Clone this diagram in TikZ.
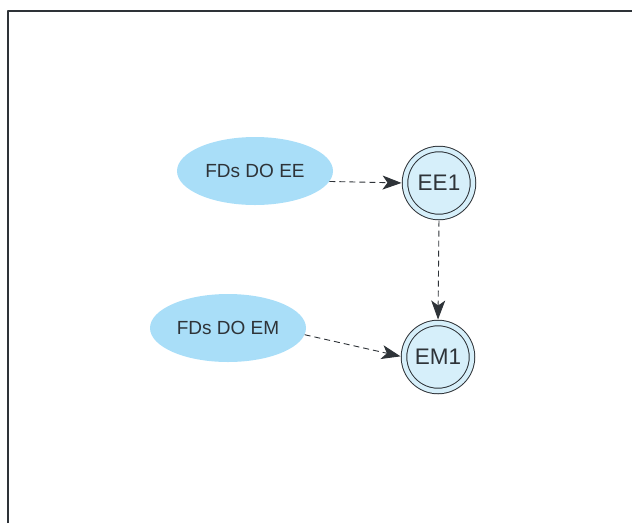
\documentclass[tikz,border=0pt]{standalone}
\usepackage{fontspec}
\setmainfont{Liberation Sans}
\usetikzlibrary{shapes.geometric,arrows.meta}
\definecolor{fdblue}{HTML}{A9DEF8}
\definecolor{stblue}{HTML}{D6EFFA}
\definecolor{inkgray}{HTML}{2E3338}
\begin{document}
\begin{tikzpicture}[x=1pt,y=-1pt,line join=round,
		fdnode/.style={ellipse,fill=fdblue,minimum width=156pt,minimum height=68pt,inner sep=0pt,font=\fontsize{19}{21}\selectfont,text=inkgray},
		stnode/.style={circle,draw=inkgray,line width=1pt,double=stblue,double distance=4.5pt,fill=stblue,minimum size=68pt,inner sep=0pt,font=\fontsize{22.5}{25}\selectfont,text=inkgray},
		link/.style={dash pattern=on 6pt off 4pt,line width=0.9pt,inkgray,-{Stealth[length=19pt,width=14pt,inset=5pt,fill=inkgray]},shorten >=3pt}]
	\useasboundingbox (0,0) rectangle (632,523);
	\draw[line width=1.6pt,inkgray] (8,523) |- (632,11);
	% nodes
	\node[fdnode] (fdee) at (255,171) {FDs DO EE};
	\node[fdnode] (fdem) at (228,328) {FDs DO EM};
	\node[stnode] (ee1) at (439,183) {EE1};
	\node[stnode] (em1) at (438,357) {EM1};
	% connectors
	\draw[link] (fdee.-8) -- (ee1.west);
	\draw[link,shorten <=3pt] (ee1.south) -- (em1.north);
	\draw[link] (fdem.-5) -- (em1.west);
\end{tikzpicture}
\end{document}
